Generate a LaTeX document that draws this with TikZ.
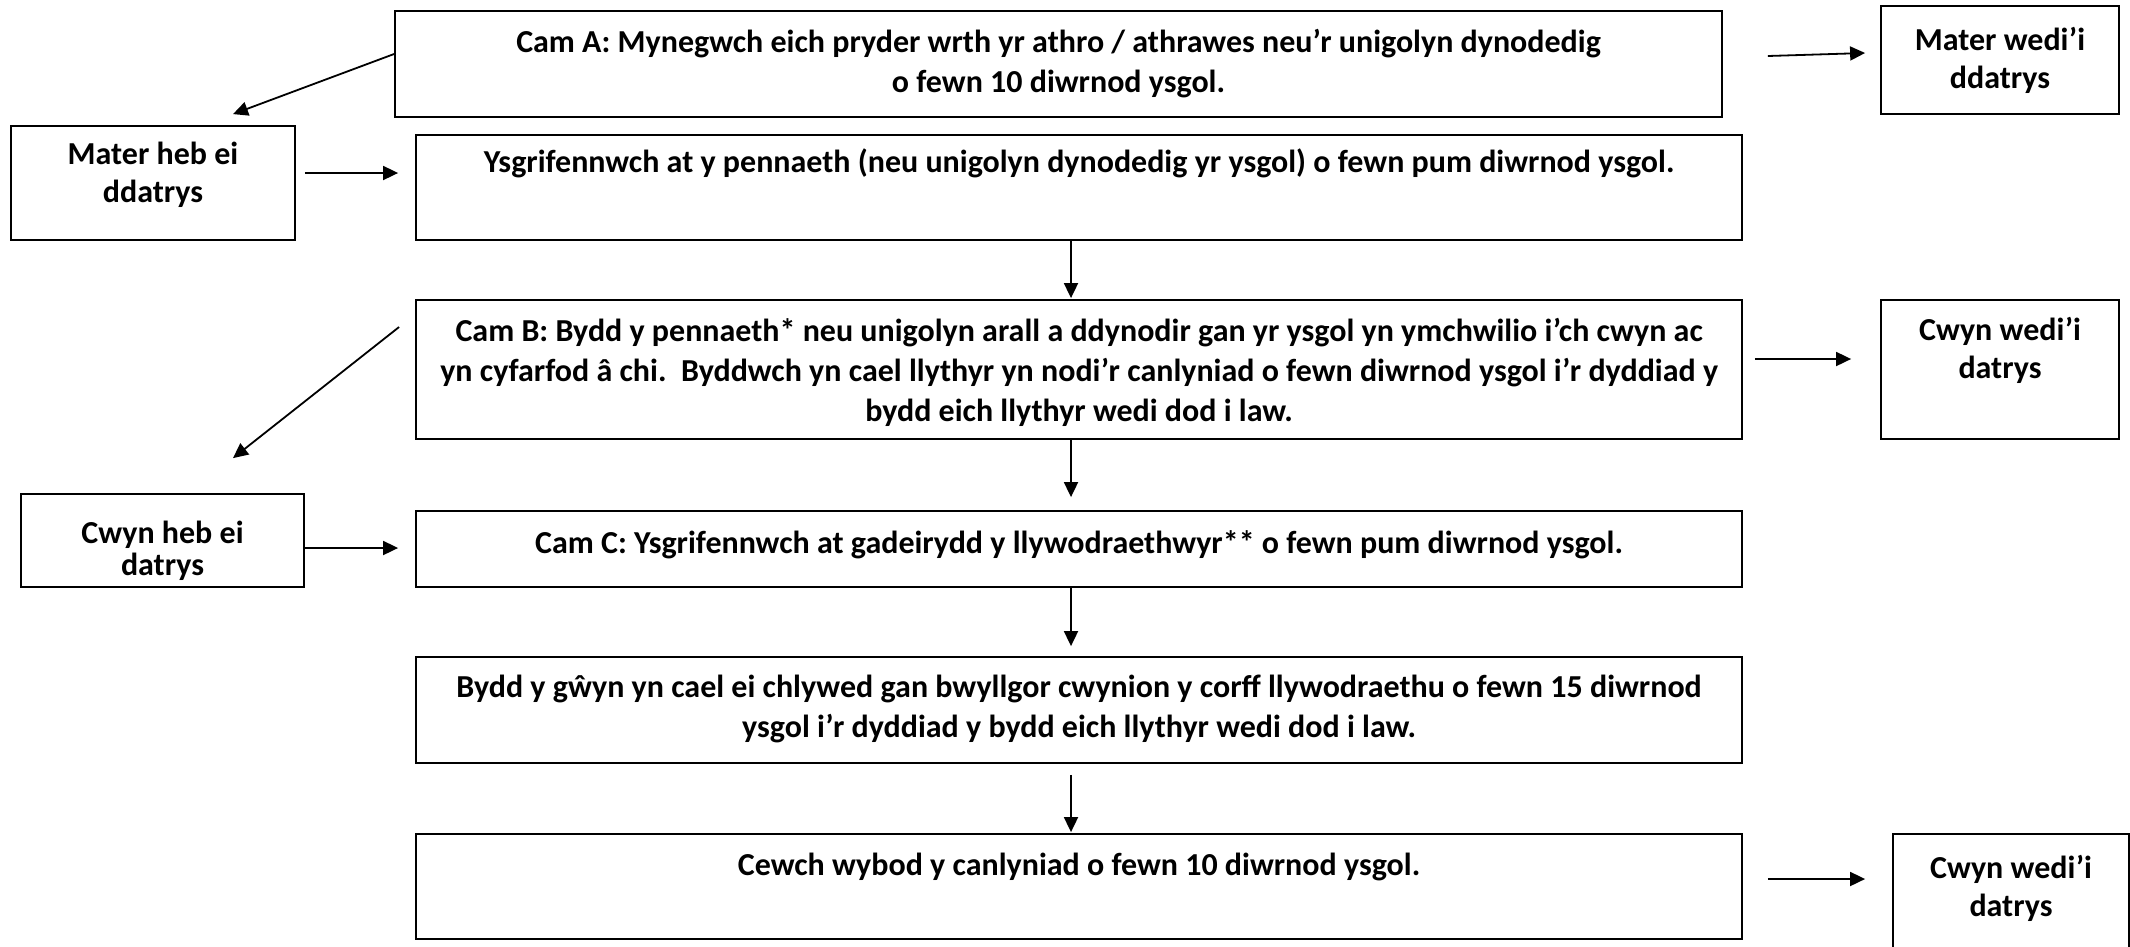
\documentclass[tikz,border=0pt]{standalone}
\usepackage{fontspec}
\setmainfont{Carlito}
\usetikzlibrary{arrows.meta,calc}
\begin{document}
\begin{tikzpicture}[x=1pt,y=-1pt,
  box/.style={draw=black, line width=1.8pt, inner sep=0pt},
  txt/.style={font=\fontsize{32}{40}\selectfont\bfseries, align=center, inner sep=0pt},
  small/.style={font=\fontsize{32}{38}\selectfont\bfseries},
  tight/.style={font=\fontsize{32}{32}\selectfont\bfseries},
  arr/.style={line width=1.8pt, -{Triangle[length=15pt,width=14pt]}}]
\useasboundingbox (0,0) rectangle (2130,946);
\fill[white] (0,0) rectangle (2130,946);
\clip (0,0) rectangle (2130,946);

% main column boxes
\node[box, minimum width=1327pt, minimum height=106pt] (A) at (1058.5,64) {};
\node[box, minimum width=1326pt, minimum height=105pt] (S) at (1079,187.5) {};
\node[box, minimum width=1326pt, minimum height=139pt] (B) at (1079,369.5) {};
\node[box, minimum width=1326pt, minimum height=76pt] (C) at (1079,549) {};
\node[box, minimum width=1326pt, minimum height=106pt] (D) at (1079,710) {};
\node[box, minimum width=1326pt, minimum height=105pt] (E) at (1079,886.5) {};

% side boxes
\node[box, minimum width=238pt, minimum height=108pt] (MW) at (2000,60) {};
\node[box, minimum width=284pt, minimum height=114pt] (MH) at (153,183) {};
\node[box, minimum width=238pt, minimum height=139pt] (CW1) at (2000,369.5) {};
\node[box, minimum width=283pt, minimum height=93pt] (CH) at (162.5,540.5) {};
\node[box, minimum width=236pt, minimum height=130pt] (CW2) at (2011,899) {};

% texts
\node[txt] (At) at (1058.5,64) {Cam A: Mynegwch eich pryder wrth yr athro / athrawes neu’r unigolyn dynodedig\\o fewn 10 diwrnod ysgol.};
\node[txt] (St) at (1079,163) {Ysgrifennwch at y pennaeth (neu unigolyn dynodedig yr ysgol) o fewn pum diwrnod ysgol.};
\node[txt] (Bt) at (1079,372) {Cam B: Bydd y pennaeth* neu unigolyn arall a ddynodir gan yr ysgol yn ymchwilio i’ch cwyn ac\\yn cyfarfod â chi.\ \ Byddwch yn cael llythyr yn nodi’r canlyniad o fewn diwrnod ysgol i’r dyddiad y\\bydd eich llythyr wedi dod i law.};
\node[txt] (Ct) at (1079,545) {Cam C: Ysgrifennwch at gadeirydd y llywodraethwyr** o fewn pum diwrnod ysgol.};
\node[txt] (Dt) at (1079,709) {Bydd y gŵyn yn cael ei chlywed gan bwyllgor cwynion y corff llywodraethu o fewn 15 diwrnod\\ysgol i’r dyddiad y bydd eich llythyr wedi dod i law.};
\node[txt] (Et) at (1079,867) {Cewch wybod y canlyniad o fewn 10 diwrnod ysgol.};

\node[txt, small] (MWt) at (2000,60) {Mater wedi’i\\ddatrys};
\node[txt, small] (MHt) at (153,175) {Mater heb ei\\ddatrys};
\node[txt, small] (CW1t) at (2000,350) {Cwyn wedi’i\\datrys};
\begin{scope}
  \clip ($(CH.north west)+(1,1)$) rectangle ($(CH.south east)+(-1,-1)$);
  \node[txt, tight] (CHt) at (162.5,551) {Cwyn heb ei\\datrys};
\end{scope}
\node[txt, small] (CW2t) at (2011,888) {Cwyn wedi’i\\datrys};

% connectors
\draw[arr] ($(A.west)+(0,-10)$) -- ($(MH.north)+(80,-11)$);
\draw[arr] ($(A.east)+(45,-8)$) -- ($(MW.west)+(-15,-7)$);
\draw[arr] ($(MH.east)+(9,-10)$) -- ($(S.west)+(-17,-14.5)$);
\draw[arr] ($(S.south)+(-8,0)$) -- ($(B.north)+(-8,-1)$);
\draw[arr] ($(B.west)+(-16,-42.5)$) -- ($(CH.north)+(70.5,-35)$);
\draw[arr] ($(B.east)+(12,-10.5)$) -- ($(CW1.west)+(-29,-10.5)$);
\draw[arr] ($(CH.east)+(0,7.5)$) -- ($(C.west)+(-17,-1)$);
\draw[arr] ($(B.south)+(-8,0)$) -- ($(C.north)+(-8,-13)$);
\draw[arr] ($(C.south)+(-8,0)$) -- ($(D.north)+(-8,-10)$);
\draw[arr] ($(D.south)+(-8,11)$) -- ($(E.north)+(-8,-1)$);
\draw[arr] ($(E.east)+(25,-7.5)$) -- ($(CW2.west)+(-27,-20)$);
\end{tikzpicture}
\end{document}
